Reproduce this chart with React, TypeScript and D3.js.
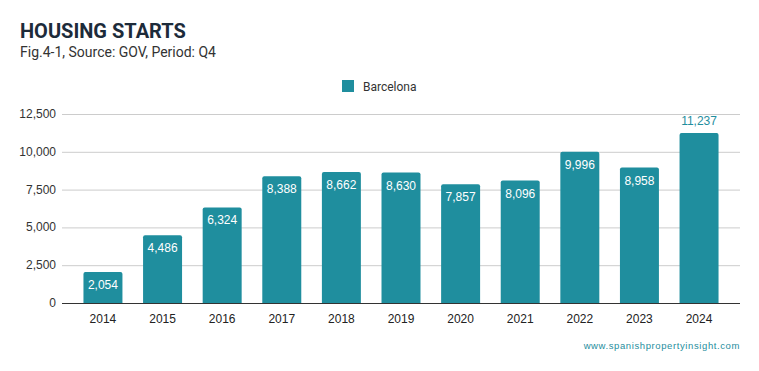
import React, { useEffect, useRef } from "react";
import * as d3 from "d3";

const years = ["2014", "2015", "2016", "2017", "2018", "2019", "2020", "2021", "2022", "2023", "2024"];
const starts = [2054, 4486, 6324, 8388, 8662, 8630, 7857, 8096, 9996, 8958, 11237];
const yTicks = [0, 2500, 5000, 7500, 10000, 12500];
const seriesName = "Barcelona";

const width = 759;
const height = 371;
const margin = { top: 114, bottom: 68, left: 62, right: 19 };
const teal = "#1f8e9e";

export default function App() {
	const ref = useRef<SVGSVGElement>(null);

	useEffect(() => {
		const svg = d3.select(ref.current);
		svg.selectAll("*").remove();

		svg.append("rect").attr("width", width).attr("height", height).attr("fill", "#fff");

		svg
			.append("text")
			.attr("x", 20)
			.attr("y", 38)
			.attr("font-family", "Roboto")
			.attr("font-weight", "bold")
			.attr("font-size", 20)
			.attr("fill", "#1d2b3a")
			.text("HOUSING STARTS");

		svg
			.append("text")
			.attr("x", 20)
			.attr("y", 57)
			.attr("font-family", "Roboto")
			.attr("font-size", 14)
			.attr("fill", "#333")
			.text("Fig.4-1, Source: GOV, Period: Q4");

		// legend
		svg.append("rect").attr("x", 342).attr("y", 80).attr("width", 12).attr("height", 12).attr("fill", teal);
		svg
			.append("text")
			.attr("x", 363)
			.attr("y", 90.5)
			.attr("font-family", "Roboto")
			.attr("font-size", 12)
			.attr("fill", "#333")
			.text(seriesName);

		const x = d3
			.scaleBand()
			.domain(years)
			.range([margin.left, width - margin.right])
			.paddingInner(0.346)
			.paddingOuter(0.36);

		const y = d3
			.scaleLinear()
			.domain([0, 12500])
			.range([height - margin.bottom, margin.top]);

		// grid
		svg
			.append("g")
			.selectAll("line")
			.data(yTicks.slice(1))
			.join("line")
			.attr("x1", margin.left)
			.attr("x2", width - margin.right)
			.attr("y1", (d) => y(d) + 0.5)
			.attr("y2", (d) => y(d) + 0.5)
			.attr("stroke", "#ccc");

		svg
			.append("g")
			.attr("font-family", "Liberation Sans, Arial")
			.attr("font-size", 12)
			.attr("fill", "#333")
			.attr("text-anchor", "end")
			.selectAll("text")
			.data(yTicks)
			.join("text")
			.attr("x", margin.left - 6)
			.attr("y", (d) => y(d) + 4)
			.text((d) => d3.format(",")(d));

		const bars = svg.append("g");
		bars
			.selectAll("path")
			.data(starts)
			.join("path")
			.attr("fill", teal)
			.attr("d", (d, i) => {
				const x0 = x(years[i])!;
				const w = x.bandwidth();
				const top = y(d);
				const bottom = y(0);
				const r = 2;
				return `M${x0},${bottom}V${top + r}Q${x0},${top} ${x0 + r},${top}H${x0 + w - r}Q${x0 + w},${top} ${x0 + w},${top + r}V${bottom}Z`;
			});

		bars
			.selectAll("text")
			.data(starts)
			.join("text")
			.attr("x", (d, i) => x(years[i])! + x.bandwidth() / 2)
			.attr("y", (d, i) => (i === starts.length - 1 ? y(d) - 8 : y(d) + 17))
			.attr("text-anchor", "middle")
			.attr("font-family", "Liberation Sans, Arial")
			.attr("font-size", 12)
			.attr("fill", (d, i) => (i === starts.length - 1 ? teal : "#fff"))
			.text((d) => d3.format(",")(d));

		// baseline
		svg
			.append("line")
			.attr("x1", margin.left)
			.attr("x2", width - margin.right)
			.attr("y1", y(0) + 0.5)
			.attr("y2", y(0) + 0.5)
			.attr("stroke", "#333");

		svg
			.append("g")
			.attr("font-family", "Liberation Sans, Arial")
			.attr("font-size", 12)
			.attr("fill", "#222")
			.attr("text-anchor", "middle")
			.selectAll("text")
			.data(years)
			.join("text")
			.attr("x", (d) => x(d)! + x.bandwidth() / 2)
			.attr("y", y(0) + 20)
			.text((d) => d);

		svg
			.append("text")
			.attr("x", 740)
			.attr("y", 349)
			.attr("text-anchor", "end")
			.attr("font-family", "Liberation Sans, Arial")
			.attr("font-size", 9.5)
			.attr("letter-spacing", 0.6)
			.attr("fill", teal)
			.text("www.spanishpropertyinsight.com");
	}, []);

	return <svg ref={ref} width={width} height={height} style={{ display: "block", position: "absolute", left: 0, top: 0 }} />;
}
